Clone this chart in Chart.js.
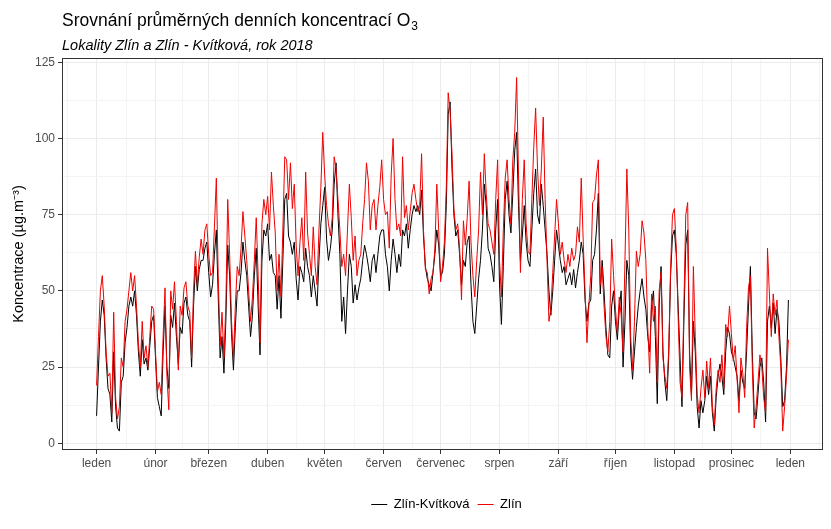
<!DOCTYPE html>
<html lang="cs">
<head>
<meta charset="utf-8">
<title>Srovnání průměrných denních koncentrací O3</title>
<script src="https://cdn.jsdelivr.net/npm/chart.js@4.4.1/dist/chart.umd.min.js"></script>
<style>
  html, body { margin: 0; padding: 0; background: #ffffff; }
  canvas { display: block; }
</style>
</head>
<body>
<canvas id="o3Chart" width="831" height="529"></canvas>
<script>
// osa x: den v roce 2018 (0 = 1. ledna)
const monthLabels = ['leden', 'únor', 'březen', 'duben', 'květen', 'červen', 'červenec',
                     'srpen', 'září', 'říjen', 'listopad', 'prosinec', 'leden'];
const monthStarts = [0, 31, 59, 90, 120, 151, 181, 212, 243, 273, 304, 334, 365];
const yTicks = [0, 25, 50, 75, 100, 125];
const seriesNames = ['Zlín-Kvítková', 'Zlín'];

// denní průměry O3 [µg.m-3], po měsících
const kvitkova = [
  9, 25, 40, 47, 42, 28, 18, 16, 7, 30, 12, 5, 4, 20, 22, 33, 38, 45, 48, 45, 50, 42, 30, 22, 34, 26, 28, 24, 32, 40, 42,
  28, 15, 12, 9, 30, 45, 25, 18, 42, 38, 46, 35, 26, 38, 36, 46, 48, 42, 40, 25, 45, 58, 50, 57, 60, 60, 64, 66,
  56, 48, 52, 62, 70, 48, 28, 35, 23, 40, 65, 55, 36, 24, 38, 50, 50, 56, 66, 60, 55, 45, 35, 42, 55, 64, 45, 29, 60, 70, 68,
  72, 60, 62, 56, 55, 44, 55, 41, 60, 80, 82, 68, 66, 62, 66, 54, 47, 58, 56, 53, 64, 58, 55, 48, 55, 50, 45, 60, 72, 78,
  84, 67, 60, 64, 70, 85, 92, 75, 62, 40, 48, 36, 50, 62, 58, 46, 52, 47, 51, 54, 60, 65, 62, 58, 53, 60, 62, 56, 62, 68, 70,
  70, 62, 58, 50, 60, 67, 62, 56, 62, 58, 70, 68, 72, 64, 70, 75, 78, 76, 78, 75, 83, 68, 58, 54, 52, 50, 56, 62, 70, 65,
  55, 56, 62, 78, 108, 112, 90, 75, 68, 70, 62, 52, 60, 58, 66, 68, 52, 40, 36, 45, 54, 60, 70, 85, 78, 64, 62, 58, 53, 70, 80,
  52, 39, 58, 80, 86, 75, 69, 82, 96, 102, 78, 60, 68, 78, 66, 60, 58, 70, 82, 90, 75, 72, 85, 78, 70, 62, 50, 42, 50, 60, 70,
  65, 60, 56, 58, 52, 54, 56, 52, 57, 51, 56, 60, 66, 62, 47, 40, 46, 47, 60, 62, 70, 82, 49, 60, 50, 38, 29, 28, 45, 50,
  40, 34, 44, 50, 25, 40, 60, 55, 30, 21, 30, 38, 45, 50, 54, 48, 44, 35, 30, 45, 50, 35, 13, 45, 58, 30, 20, 14, 28, 55, 68,
  70, 62, 45, 28, 12, 40, 65, 70, 30, 16, 40, 30, 12, 5, 14, 10, 14, 22, 16, 22, 10, 4, 15, 22, 26, 22, 16, 30, 38, 36,
  30, 28, 25, 22, 14, 24, 20, 18, 30, 45, 58, 30, 10, 8, 16, 25, 28, 20, 7, 40, 45, 38, 46, 36, 44, 40, 28, 12, 14, 25, 47
];
const zlin = [
  19, 35, 50, 55, 45, 30, 22, 23, 10, 43, 15, 8, 12, 28, 25, 40, 44, 50, 56, 50, 55, 45, 33, 25, 40, 28, 32, 25, 35, 45, 44,
  30, 17, 20, 16, 35, 51, 22, 11, 50, 44, 53, 40, 24, 45, 42, 51, 53, 45, 43, 28, 50, 63, 52, 61, 67, 62, 70, 72,
  62, 55, 56, 71, 87, 55, 32, 43, 28, 45, 80, 62, 40, 28, 45, 58, 55, 64, 76, 68, 60, 50, 40, 48, 60, 74, 55, 33, 72, 80, 75,
  81, 70, 89, 78, 69, 50, 62, 48, 70, 94, 93, 80, 92, 77, 85, 65, 55, 66, 74, 60, 89, 69, 62, 55, 71, 58, 52, 70, 84, 102,
  88, 78, 72, 68, 74, 94, 90, 80, 70, 58, 62, 55, 70, 85, 74, 60, 68, 55, 60, 62, 72, 80, 92, 86, 70, 78, 80, 70, 78, 84, 93,
  80, 75, 76, 64, 88, 100, 80, 70, 72, 68, 94, 74, 78, 70, 76, 82, 85, 80, 76, 78, 95, 70, 57, 56, 49, 54, 56, 64, 85, 70,
  53, 58, 66, 84, 115, 109, 95, 77, 70, 72, 64, 47, 73, 65, 74, 86, 66, 55, 48, 60, 70, 89, 75, 95, 82, 72, 70, 66, 62, 80, 93,
  60, 48, 70, 87, 93, 80, 72, 93, 102, 120, 88, 56, 80, 93, 72, 63, 62, 80, 97, 110, 90, 78, 90, 107, 80, 60, 40, 44, 56, 68, 80,
  72, 62, 66, 60, 56, 62, 58, 64, 60, 62, 71, 66, 87, 67, 50, 33, 45, 55, 79, 80, 88, 93, 52, 58, 45, 35, 30, 40, 67, 55,
  44, 36, 48, 42, 30, 60, 90, 70, 35, 24, 40, 63, 58, 62, 73, 69, 60, 38, 23, 49, 40, 45, 20, 50, 56, 28, 22, 18, 30, 57, 75,
  77, 64, 41, 20, 15, 45, 75, 79, 25, 14, 58, 35, 16, 10, 18, 24, 15, 27, 18, 28, 12, 6, 18, 24, 20, 29, 18, 39, 35, 45,
  36, 27, 32, 21, 10, 28, 23, 15, 38, 51, 55, 25, 5, 12, 20, 29, 25, 15, 10, 64, 49, 35, 49, 42, 47, 35, 25, 4, 12, 22, 34
];

const FONT = '"Liberation Sans", Arial, sans-serif';

// minor gridlines halfway between breaks (like ggplot)
const xMinor = [-15.5];
for (let i = 0; i < monthStarts.length - 1; i++) xMinor.push((monthStarts[i] + monthStarts[i + 1]) / 2);
xMinor.push(380.5);
const yMinor = [12.5, 37.5, 62.5, 87.5, 112.5];

const isMajorX = v => monthStarts.includes(v);
const isMajorY = v => yTicks.includes(v);

const toPoints = arr => arr.map((v, i) => ({ x: i, y: v }));

const frame = {
  id: 'frame',
  afterLayout(chart) {
    // legend sits centred under the panel, not the whole canvas
    if (chart.legend) {
      chart.legend.left += 35;
      chart.legend.right += 35;
    }
  },
  afterDatasetsDraw(chart) {
    const { ctx, chartArea: a } = chart;
    ctx.save();
    ctx.strokeStyle = '#333333';
    ctx.lineWidth = 1;
    ctx.strokeRect(a.left + 0.5, a.top + 0.5, a.right - a.left - 1, a.bottom - a.top - 1);
    ctx.restore();
  },
  afterDraw(chart) {
    const { ctx, chartArea: a } = chart;
    ctx.save();
    ctx.fillStyle = '#000000';
    ctx.textAlign = 'left';
    ctx.textBaseline = 'alphabetic';
    ctx.font = '17.5px ' + FONT;
    const main = 'Srovnání průměrných denních koncentrací O';
    ctx.fillText(main, a.left, 26);
    const w = ctx.measureText(main).width;
    ctx.font = '12px ' + FONT;
    ctx.fillText('3', a.left + w + 1, 30);
    ctx.font = 'italic 14.5px ' + FONT;
    ctx.fillText('Lokality Zlín a Zlín - Kvítková, rok 2018', a.left, 50);
    ctx.restore();
  }
};

new Chart(document.getElementById('o3Chart'), {
  type: 'line',
  data: {
    datasets: [
      {
        label: seriesNames[0],
        data: toPoints(kvitkova),
        borderColor: '#000000',
        backgroundColor: '#000000',
        borderWidth: 1,
        pointRadius: 0,
        tension: 0,
        order: 1
      },
      {
        label: seriesNames[1],
        data: toPoints(zlin),
        borderColor: '#f00000',
        backgroundColor: '#f00000',
        borderWidth: 1,
        pointRadius: 0,
        tension: 0,
        order: 0
      }
    ]
  },
  options: {
    responsive: false,
    animation: false,
    devicePixelRatio: 1,
    layout: { padding: { top: 58, left: 0, right: 8, bottom: 8 } },
    plugins: {
      legend: {
        position: 'bottom',
        labels: {
          usePointStyle: true,
          pointStyle: 'line',
          pointStyleWidth: 16,
          boxHeight: 13,
          padding: 8,
          color: '#000000',
          font: { family: FONT, size: 13 },
          sort: (a, b) => a.datasetIndex - b.datasetIndex
        }
      },
      tooltip: { enabled: false }
    },
    scales: {
      x: {
        type: 'linear',
        min: -18.2,
        max: 382.2,
        afterBuildTicks: scale => {
          scale.ticks = monthStarts.concat(xMinor).sort((a, b) => a - b).map(v => ({ value: v }));
        },
        afterFit: scale => { scale.height = 40; },
        grid: {
          color: c => isMajorX(c.tick.value) ? '#ebebeb' : '#f4f4f4',
          tickColor: c => isMajorX(c.tick.value) ? '#333333' : 'rgba(0,0,0,0)',
          tickLength: 4,
          lineWidth: 1
        },
        border: { display: false },
        ticks: {
          autoSkip: false,
          maxRotation: 0,
          padding: 2,
          color: '#4d4d4d',
          font: { family: FONT, size: 12 },
          callback: v => {
            const i = monthStarts.indexOf(v);
            return i >= 0 ? monthLabels[i] : '';
          }
        }
      },
      y: {
        min: -2.2,
        max: 126.4,
        afterBuildTicks: scale => {
          scale.ticks = yTicks.concat(yMinor).sort((a, b) => a - b).map(v => ({ value: v }));
        },
        afterFit: scale => { scale.width = 62; },
        grid: {
          color: c => isMajorY(c.tick.value) ? '#ebebeb' : '#f4f4f4',
          tickColor: c => isMajorY(c.tick.value) ? '#333333' : 'rgba(0,0,0,0)',
          tickLength: 4,
          lineWidth: 1
        },
        border: { display: false },
        title: {
          display: true,
          text: 'Koncentrace (µg.m⁻³)',
          color: '#000000',
          font: { family: FONT, size: 14.5 },
          padding: { top: 10, bottom: 0 }
        },
        ticks: {
          padding: 3,
          color: '#4d4d4d',
          font: { family: FONT, size: 12 },
          callback: v => isMajorY(v) ? String(v) : ''
        }
      }
    }
  },
  plugins: [frame]
});
</script>
</body>
</html>
